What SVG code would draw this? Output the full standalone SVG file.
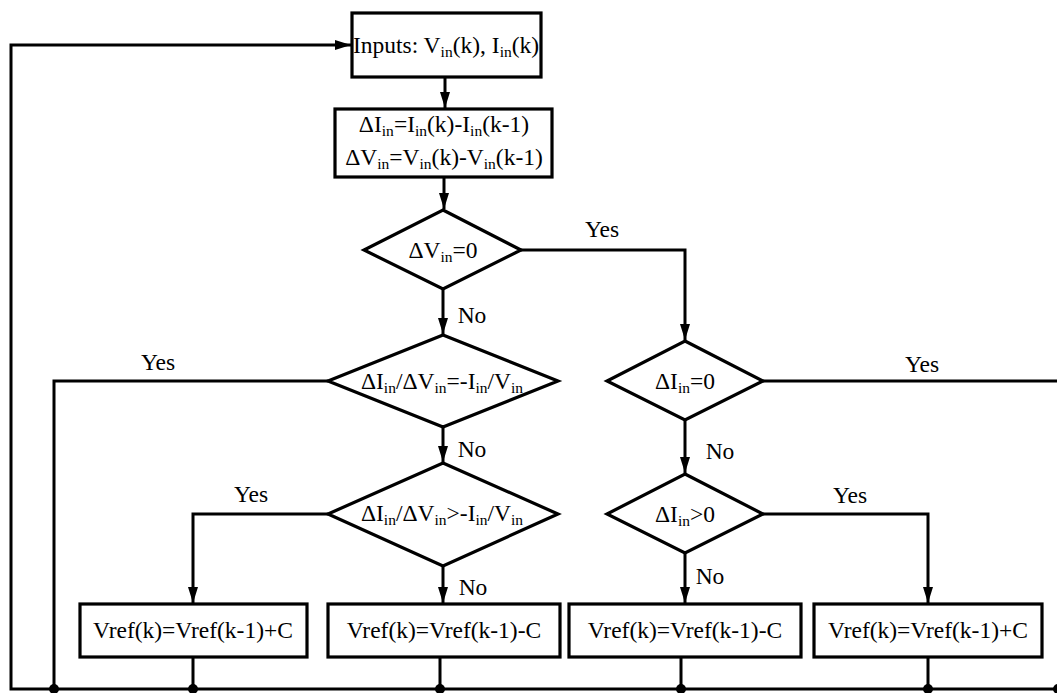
<svg xmlns="http://www.w3.org/2000/svg" width="1057" height="693" viewBox="0 0 1057 693" font-family="Liberation Serif, DejaVu Serif, serif" font-size="23.5">
<defs>
<style>
.n{fill:#fff;stroke:#000;stroke-width:3.2;stroke-linejoin:miter}
.c{fill:none;stroke:#000;stroke-width:3}
text{fill:#000;text-anchor:middle}
.s{font-size:15.5px}
</style>
<marker id="ah" viewBox="0 0 16 10" refX="16" refY="5" markerWidth="16" markerHeight="10" markerUnits="userSpaceOnUse" orient="auto">
<path d="M0,0 L16,5 L0,10 z" fill="#000"/>
</marker>
</defs>
<rect width="1057" height="693" fill="#fff"/>
<g id="connectors">
<path class="c" d="M1059,689 H11 V45 H351" marker-end="url(#ah)"/>
<path class="c" d="M445,77 V108" marker-end="url(#ah)"/>
<path class="c" d="M444,177 V209" marker-end="url(#ah)"/>
<path class="c" d="M521,250 H685 V340" marker-end="url(#ah)"/>
<path class="c" d="M443,289 V334" marker-end="url(#ah)"/>
<path class="c" d="M328,381 H54 V689"/>
<path class="c" d="M443,427 V462" marker-end="url(#ah)"/>
<path class="c" d="M328,514 H193 V603" marker-end="url(#ah)"/>
<path class="c" d="M443,566 V603" marker-end="url(#ah)"/>
<path class="c" d="M763,381 H1059 V689"/>
<path class="c" d="M685,420 V473" marker-end="url(#ah)"/>
<path class="c" d="M763,514 H928 V603" marker-end="url(#ah)"/>
<path class="c" d="M685,553 V603" marker-end="url(#ah)"/>
<path class="c" d="M193,657 V689 M440,657 V689 M681,657 V689 M928,657 V689"/>
<g fill="#000">
<circle cx="54" cy="689" r="5"/>
<circle cx="193" cy="689" r="5"/>
<circle cx="440" cy="689" r="5"/>
<circle cx="681" cy="689" r="5"/>
<circle cx="928" cy="689" r="5"/>
<circle cx="1058" cy="689" r="5"/>
</g>
<text x="602" y="237">Yes</text>
<text x="472" y="323">No</text>
<text x="158" y="370">Yes</text>
<text x="472" y="457">No</text>
<text x="251" y="502">Yes</text>
<text x="473" y="595">No</text>
<text x="922" y="372">Yes</text>
<text x="720" y="459">No</text>
<text x="850" y="503">Yes</text>
<text x="710" y="584">No</text>
</g>
<g id="inputs">
<rect class="n" x="352" y="13" width="189" height="64"/>
<text x="446" y="53">Inputs: V<tspan class="s" dy="4">in</tspan><tspan dy="-4">(k), I</tspan><tspan class="s" dy="4">in</tspan><tspan dy="-4">(k)</tspan></text>
</g>
<g id="delta">
<rect class="n" x="335" y="109" width="217" height="68"/>
<text x="444" y="132">ΔI<tspan class="s" dy="4">in</tspan><tspan dy="-4">=I</tspan><tspan class="s" dy="4">in</tspan><tspan dy="-4">(k)-I</tspan><tspan class="s" dy="4">in</tspan><tspan dy="-4">(k-1)</tspan></text>
<text x="444" y="165">ΔV<tspan class="s" dy="4">in</tspan><tspan dy="-4">=V</tspan><tspan class="s" dy="4">in</tspan><tspan dy="-4">(k)-V</tspan><tspan class="s" dy="4">in</tspan><tspan dy="-4">(k-1)</tspan></text>
</g>
<g id="d1">
<polygon class="n" points="443,210 521,250 443,289 364,250"/>
<text x="443" y="258">ΔV<tspan class="s" dy="4">in</tspan><tspan dy="-4">=0</tspan></text>
</g>
<g id="d2">
<polygon class="n" points="443,335 558,381 443,427 328,381"/>
<text x="442" y="389">ΔI<tspan class="s" dy="4">in</tspan><tspan dy="-4">/ΔV</tspan><tspan class="s" dy="4">in</tspan><tspan dy="-4">=-I</tspan><tspan class="s" dy="4">in</tspan><tspan dy="-4">/V</tspan><tspan class="s" dy="4">in</tspan></text>
</g>
<g id="d3">
<polygon class="n" points="443,463 558,514 443,566 328,514"/>
<text x="442" y="521">ΔI<tspan class="s" dy="4">in</tspan><tspan dy="-4">/ΔV</tspan><tspan class="s" dy="4">in</tspan><tspan dy="-4">&gt;-I</tspan><tspan class="s" dy="4">in</tspan><tspan dy="-4">/V</tspan><tspan class="s" dy="4">in</tspan></text>
</g>
<g id="d4">
<polygon class="n" points="685,341 763,381 685,420 607,381"/>
<text x="685" y="389">ΔI<tspan class="s" dy="4">in</tspan><tspan dy="-4">=0</tspan></text>
</g>
<g id="d5">
<polygon class="n" points="685,474 763,514 685,553 607,514"/>
<text x="685" y="522">ΔI<tspan class="s" dy="4">in</tspan><tspan dy="-4">&gt;0</tspan></text>
</g>
<g id="b1">
<rect class="n" x="80" y="604" width="227" height="53"/>
<text x="193" y="638">Vref(k)=Vref(k-1)+C</text>
</g>
<g id="b2">
<rect class="n" x="328" y="604" width="232" height="53"/>
<text x="444" y="638">Vref(k)=Vref(k-1)-C</text>
</g>
<g id="b3">
<rect class="n" x="569" y="604" width="232" height="53"/>
<text x="685" y="638">Vref(k)=Vref(k-1)-C</text>
</g>
<g id="b4">
<rect class="n" x="814" y="604" width="228" height="53"/>
<text x="928" y="638">Vref(k)=Vref(k-1)+C</text>
</g>
</svg>
